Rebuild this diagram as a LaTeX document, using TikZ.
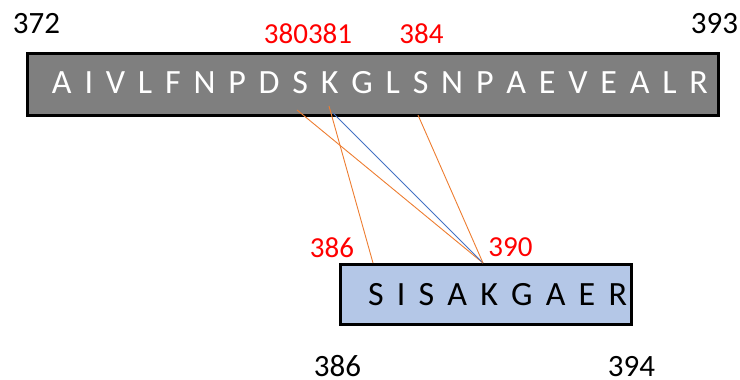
\documentclass[tikz,border=0pt]{standalone}
\usepackage{fontspec}
\setmainfont{Carlito}
\usetikzlibrary{positioning}
\usepackage{xcolor}
\definecolor{ink}{HTML}{000000}
\definecolor{longFill}{HTML}{7F7F7F}
\definecolor{shortFill}{HTML}{B4C7E7}
\definecolor{siteRed}{HTML}{FF0000}
\definecolor{orange}{HTML}{ED7D31}
\definecolor{blue}{HTML}{4472C4}
\tikzset{
  base/.style={font=\fontsize{31}{31}\selectfont, text=ink, inner sep=0pt},
  seqbox/.style={draw=black, line width=3pt, inner sep=0pt},
  longbox/.style={seqbox, fill=longFill, minimum width=691pt, minimum height=62pt},
  shortbox/.style={seqbox, fill=shortFill, minimum width=291pt, minimum height=60pt},
  residues/.style={base, font=\fontsize{34}{34}\selectfont},
  endnum/.style={base},
  sitenum/.style={base, font=\fontsize{29}{29}\selectfont, text=siteRed},
  orangelink/.style={draw=orange, line width=0.9pt},
  bluelink/.style={draw=blue, line width=0.9pt},
}

\begin{document}
\begin{tikzpicture}[x=1pt,y=-1pt]
  \useasboundingbox (0,0) rectangle (740,380);

  \node[longbox] (long) at (373,84.5) {};
  \node[residues,text=white] (longseq) at (380,83) {\makebox[656pt][s]{A I V L F N P D S K G L S N P A E V E A L R}};
  \node[shortbox] (short) at (486,294.5) {};
  \node[residues] (shortseq) at (497.5,295) {\makebox[259pt][s]{S I S A K G A E R}};

  \node[endnum] (n372) at (36.5,24) {372};
  \node[endnum] (n393) at (714.5,24) {393};
  \node[endnum] (n386) at (337.5,366.5) {386};
  \node[endnum] (n394) at (631.5,366.5) {394};

  \node[sitenum] (s380) at (308,34) {380381};
  \node[sitenum] (s384) at (421.5,34) {384};
  \node[sitenum] (s386) at (332,247.5) {386};
  \node[sitenum] (s390) at (510.5,247.5) {390};

  \coordinate (S380) at (297,110);
  \coordinate (K381) at (329,106);
  \coordinate (K381b) at (333,113);
  \coordinate (S384) at (418,115);
  \coordinate (S386) at (373,263);
  \coordinate (K390) at (483,263);

  \draw[orangelink] (S380) -- (K390);
  \draw[orangelink] (K381) -- (S386);
  \draw[bluelink] (K381b) -- (K390);
  \draw[orangelink] (S384) -- (K390);
\end{tikzpicture}
\end{document}
